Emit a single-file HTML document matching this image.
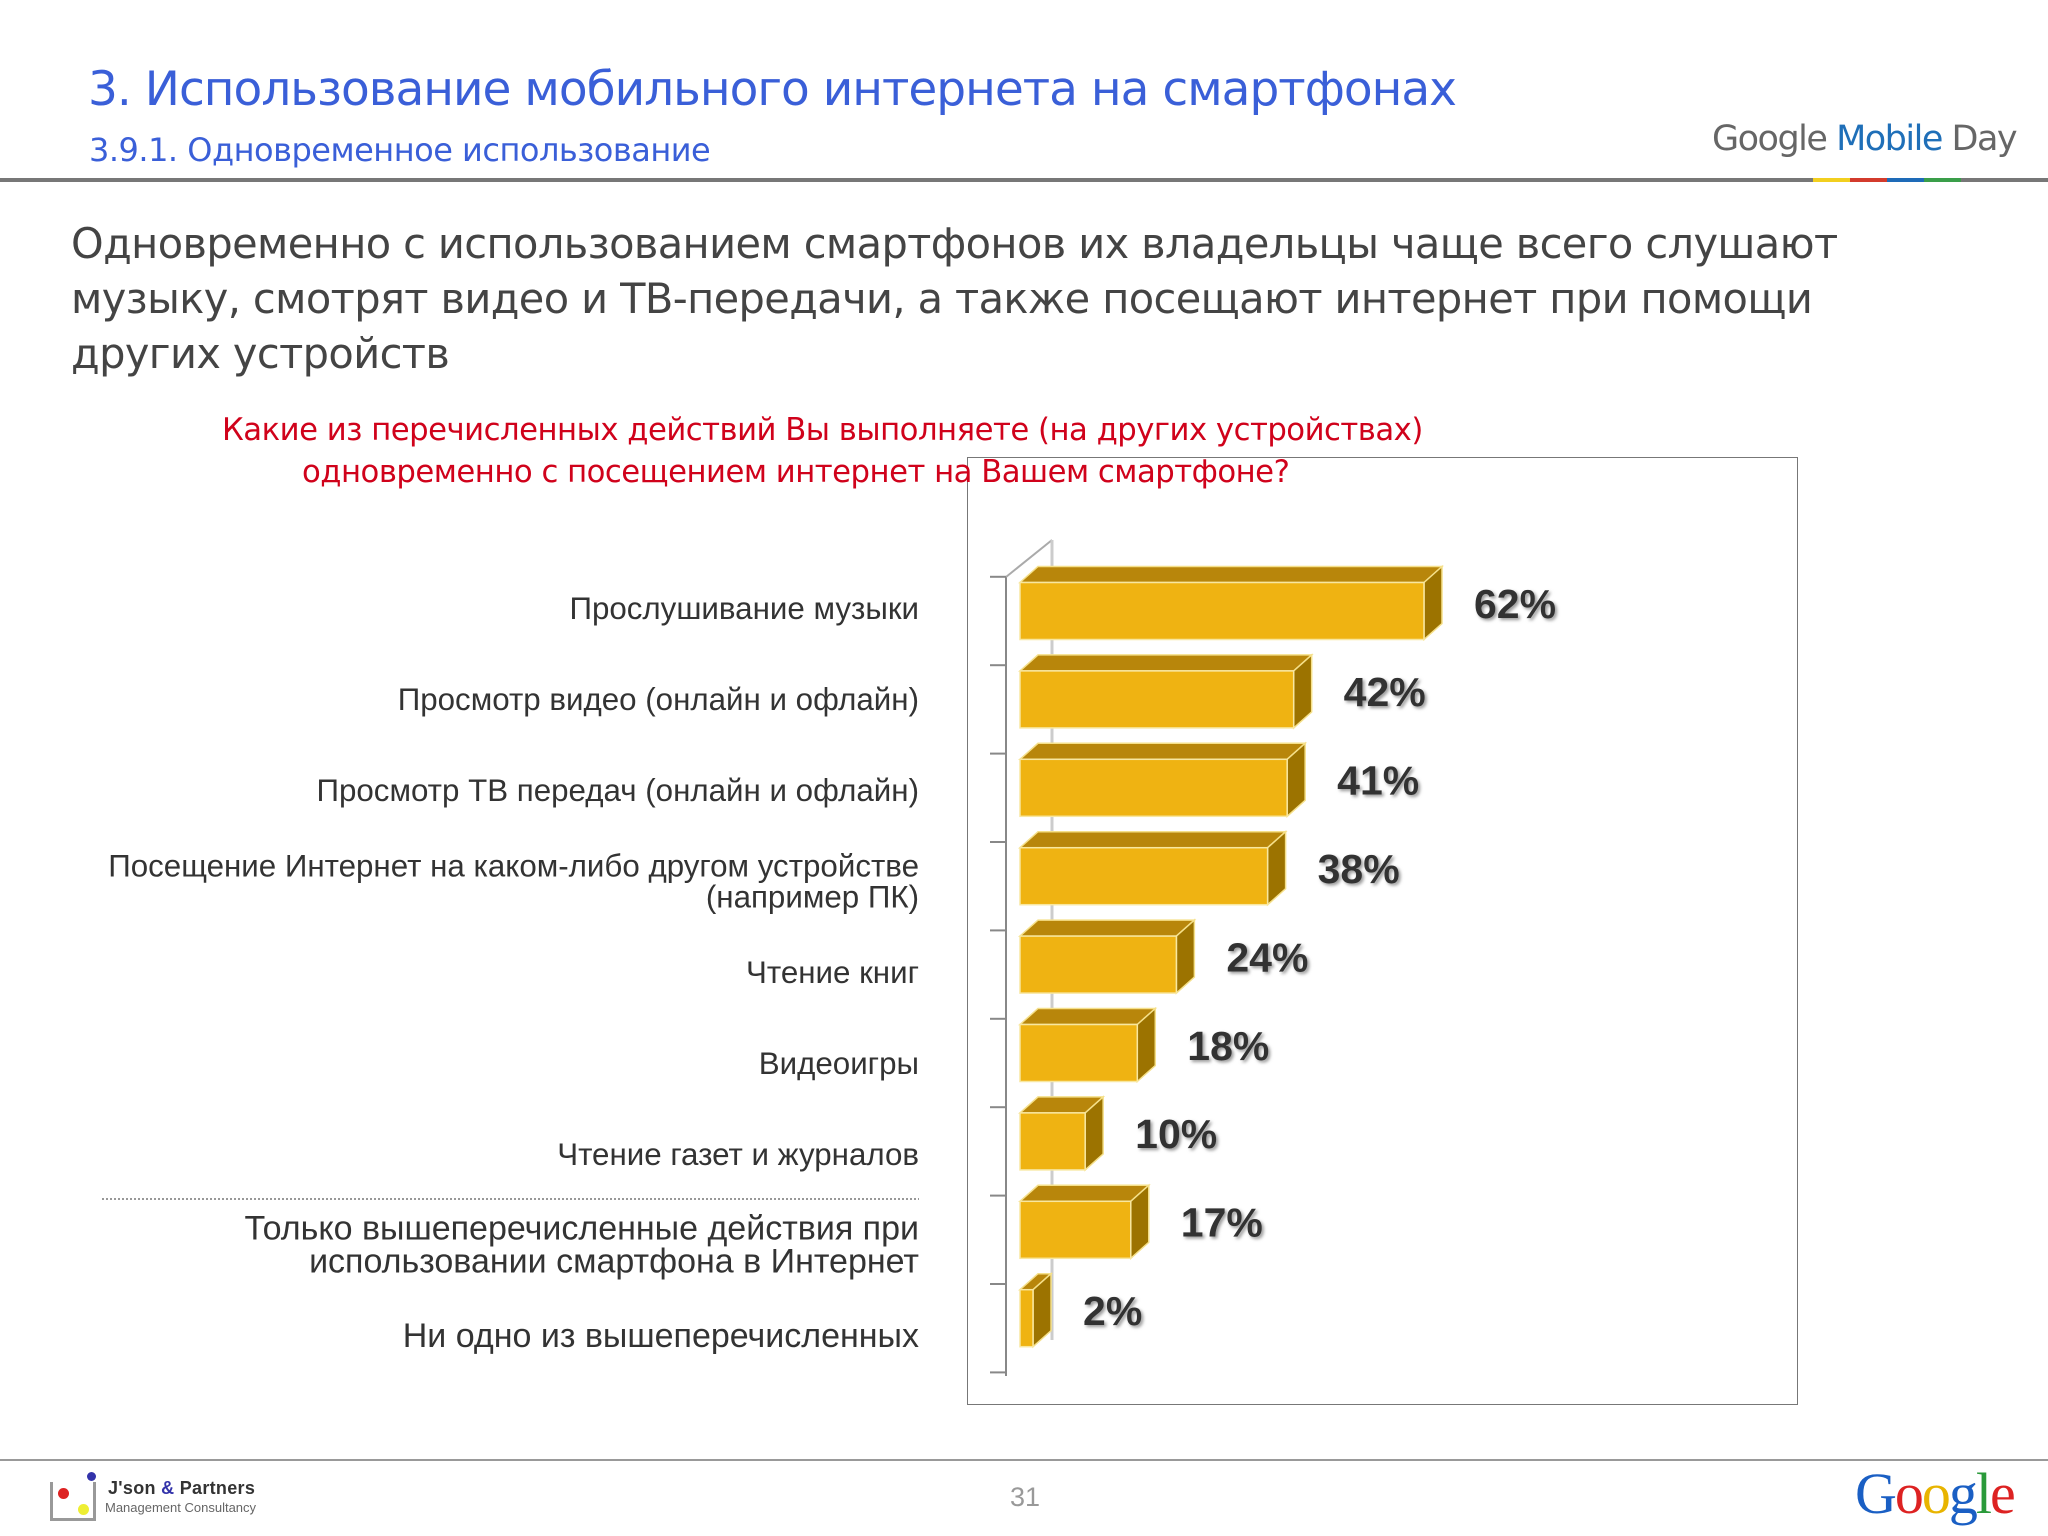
<!DOCTYPE html>
<html><head><meta charset="utf-8"><style>
html,body{margin:0;padding:0;background:#fff;}
body{width:2048px;height:1536px;position:relative;overflow:hidden;font-family:"Liberation Sans","Noto Sans CJK SC",sans-serif;}
.abs{position:absolute;white-space:nowrap;}
</style></head><body>
<div class="abs" style="left:88px;top:62px;font-size:47px;color:#3a5fd8;font-family:'DejaVu Sans',sans-serif;letter-spacing:-1px">3. Использование мобильного интернета на смартфонах</div>
<div class="abs" style="left:89px;top:131px;font-size:32px;color:#3a5fd8;font-family:'DejaVu Sans',sans-serif;letter-spacing:-0.5px">3.9.1. Одновременное использование</div>
<div class="abs" style="left:1712px;top:119px;font-size:35px;color:#666;font-family:'DejaVu Sans',sans-serif;letter-spacing:-1.5px">Google <span style="color:#1f6fb8">Mobile</span> Day</div>
<div class="abs" style="left:0;top:178px;width:2048px;height:4px;background:#777"></div>
<div class="abs" style="left:1813px;top:178px;height:4px;width:148px;background:linear-gradient(90deg,#f2cf1f 0 25%,#d33b2c 25% 50%,#1e6bb8 50% 75%,#3a9e4a 75%)"></div>
<div class="abs" style="left:71px;top:216px;font-size:41.5px;line-height:55px;color:#444;font-family:'DejaVu Sans',sans-serif;letter-spacing:-0.6px">Одновременно с использованием смартфонов их владельцы чаще всего слушают<br>музыку, смотрят видео и ТВ-передачи, а также посещают интернет при помощи<br>других устройств</div>
<div class="abs" style="left:967px;top:457px;width:829px;height:946px;border:1.5px solid #777"></div>
<div class="abs" style="left:222px;top:410px;font-size:30.7px;line-height:42px;color:#d0021b;font-family:'DejaVu Sans',sans-serif;letter-spacing:-0.5px">Какие из перечисленных действий Вы выполняете (на других устройствах)<br><span style="padding-left:80px">одновременно с посещением интернет на Вашем смартфоне?</span></div>
<svg id="chart" width="2048" height="1536" style="position:absolute;left:0;top:0">
<defs><filter id="sh" x="-10%" y="-10%" width="130%" height="140%"><feDropShadow dx="2" dy="2" stdDeviation="1.5" flood-color="#999"/></filter></defs>
</svg>
<div class="abs" style="left:0;top:1459px;width:2048px;height:2px;background:#999"></div>
<div class="abs" style="left:50px;top:1472px;width:230px;height:50px">
<div style="position:absolute;left:0;top:10px;width:40px;height:36px;border:3px solid #999;border-top:none;"></div>
<div style="position:absolute;left:8px;top:16px;width:11px;height:11px;border-radius:50%;background:#d22"></div>
<div style="position:absolute;left:28px;top:32px;width:11px;height:11px;border-radius:50%;background:#ee3"></div>
<div style="position:absolute;left:37px;top:0;width:9px;height:9px;border-radius:50%;background:#33a"></div>
<div style="position:absolute;left:58px;top:6px;font-size:18px;font-weight:bold;color:#333;letter-spacing:0.3px">J'son <span style="color:#33a">&amp;</span> Partners</div>
<div style="position:absolute;left:55px;top:28px;font-size:13px;color:#666">Management Consultancy</div>
</div>
<div class="abs" style="left:1010px;top:1482px;font-size:27px;color:#999">31</div>
<div class="abs" style="left:1855px;top:1460px;font-size:58px;font-family:'Liberation Serif',serif;letter-spacing:-2px"><span style="color:#1a5fc4">G</span><span style="color:#d22">o</span><span style="color:#e8b400">o</span><span style="color:#1a5fc4">g</span><span style="color:#2a9a3a">l</span><span style="color:#d22">e</span></div>
<script>
const categories=["Прослушивание музыки","Просмотр видео (онлайн и офлайн)","Просмотр ТВ передач (онлайн и офлайн)","Посещение Интернет на каком-либо другом устройстве|(например ПК)","Чтение книг","Видеоигры","Чтение газет и журналов","Только вышеперечисленные действия при|использовании смартфона в Интернет","Ни одно из вышеперечисленных"];
const values=[62,42,41,38,24,18,10,17,2];
const valueLabels=["62%","42%","41%","38%","24%","18%","10%","17%","2%"];
const NS="http://www.w3.org/2000/svg";
const svg=document.getElementById('chart');
const x0=1020, pxPer=6.516, y0=611, step=88.4, bh=57, dx=18, dy=16;
const xs=v=>x0+v*pxPer;
const yc=i=>y0+i*step;
function mk(t,a){const e=document.createElementNS(NS,t);for(const k in a)e.setAttribute(k,a[k]);svg.appendChild(e);return e;}
let ax=mk('line',{x1:1006,y1:577,x2:1006,y2:1376,stroke:'#888','stroke-width':2});

let ax2=mk('line',{x1:1006,y1:577,x2:1052,y2:540,stroke:'#aaa','stroke-width':2});

let ax3=mk('line',{x1:1052,y1:540,x2:1052,y2:1340,stroke:'#ccc','stroke-width':3});

for(let i=0;i<=categories.length;i++){
  const y=yc(i)-step/2+10;
  const t=mk('line',{x1:990,y1:y,x2:1006,y2:y,stroke:'#888','stroke-width':2});
  
}
values.forEach((v,i)=>{
  const top=yc(i)-bh/2, xe=xs(v), g=document.createElementNS(NS,'g');
  
  
  svg.appendChild(g);
  const add=(t,a)=>{const e=document.createElementNS(NS,t);for(const k in a)e.setAttribute(k,a[k]);g.appendChild(e);};
  add('polygon',{points:`${x0},${top} ${x0+dx},${top-dy} ${xe+dx},${top-dy} ${xe},${top}`,fill:'#b8860b',stroke:'#f5e08a','stroke-width':1.5});
  add('polygon',{points:`${xe},${top} ${xe+dx},${top-dy} ${xe+dx},${top+bh-dy} ${xe},${top+bh}`,fill:'#9c7300',stroke:'#f5e08a','stroke-width':1.5});
  add('rect',{x:x0,y:top,width:xe-x0,height:bh,fill:'#efb312',stroke:'#f8e7a0','stroke-width':1.5});
  const tx=document.createElementNS(NS,'text');
  tx.setAttribute('x',xe+dx+32);tx.setAttribute('y',yc(i)-4);
  tx.setAttribute('font-size','41');tx.setAttribute('font-weight','bold');tx.setAttribute('fill','#333');
  tx.setAttribute('filter','url(#sh)');tx.setAttribute('font-family','Liberation Sans, sans-serif');
  tx.setAttribute('dominant-baseline','middle');
  tx.textContent=valueLabels[i];
  
  
  svg.appendChild(tx);
});
const ly0=608, lstep=91;
categories.forEach((c,i)=>{
  const lines=c.split('|'), cy=ly0+i*lstep;
  const big=i>=7;
  const tx=document.createElementNS(NS,'text');
  tx.setAttribute('text-anchor','end');tx.setAttribute('font-size',big?'34':'31.3');tx.setAttribute('fill','#333');
  tx.setAttribute('font-family','Liberation Sans, sans-serif');
  lines.forEach((l,j)=>{const ts=document.createElementNS(NS,'tspan');ts.setAttribute('x',919);
    ts.setAttribute('y',cy+11+(j-(lines.length-1)/2)*(big?33:31));ts.textContent=l;tx.appendChild(ts);});
  
  
  svg.appendChild(tx);
});
const sep=mk('line',{x1:102,y1:1199,x2:919,y2:1199,stroke:'#777','stroke-width':1.5,'stroke-dasharray':'2,2'});


</script>
</body></html>
